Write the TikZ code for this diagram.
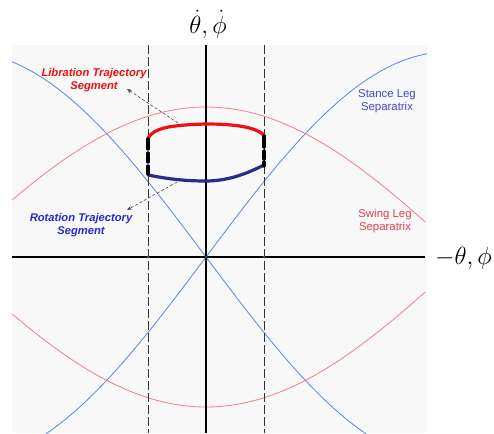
\documentclass[tikz,border=0pt]{standalone}
\usepackage{fontspec}
\setsansfont{Liberation Sans}
\usetikzlibrary{arrows.meta}
\definecolor{bgc}{HTML}{F8F8F8}
\definecolor{sepblue}{HTML}{5B87DC}
\definecolor{sepred}{HTML}{F08088}
\definecolor{trajred}{HTML}{F01010}
\definecolor{trajblue}{HTML}{2A2A90}
\definecolor{lblblue}{HTML}{2A2ACC}
\definecolor{stblue}{HTML}{4848D0}
\definecolor{swred}{HTML}{E04050}
\tikzset{
  sep/.style={line width=0.8pt},
  axisline/.style={line width=1.1pt, black},
  guide/.style={line width=0.9pt, black!80, dash pattern=on 9pt off 3pt},
  traj/.style={line width=3.2pt, line cap=round},
  gap/.style={line width=3.4pt, black, line cap=round},
  pointer/.style={line width=0.6pt, black!70, dash pattern=on 3pt off 2pt, -{Stealth[length=5pt,width=4pt]}},
  bolllabel/.style={font=\sffamily\bfseries\itshape\fontsize{11.2}{13.5}\selectfont, align=center, inner sep=0pt},
  seplabel/.style={font=\sffamily\fontsize{11.4}{13}\selectfont, align=center, inner sep=0pt},
  dot/.style={circle, fill=black!70, inner sep=0pt, minimum size=3pt}
}
\begin{document}
\begin{tikzpicture}[x=1pt,y=-1pt]
\useasboundingbox (0,0) rectangle (494,433);
\fill[bgc] (12,45) rectangle (427,433);
\begin{scope}
\clip (12,45) rectangle (427,433);
% stance leg separatrices (blue)
\draw[sep, sepblue] plot[domain=12:427, samples=120] (\x, {257 - 205*sin(0.3724*(\x-206))});
\draw[sep, sepblue] plot[domain=12:427, samples=120] (\x, {257 + 205*sin(0.3724*(\x-206))});
% swing leg separatrices (red)
\draw[sep, sepred] plot[domain=12:425, samples=120] (\x, {257 - 150*cos(0.349*(\x-206))});
\draw[sep, sepred] plot[domain=12:425, samples=120] (\x, {257 + 150*cos(0.349*(\x-206))});
\end{scope}
% guides and axes
\coordinate (gl1) at (148,45); \coordinate (gl2) at (148,433);
\coordinate (gr1) at (264,45); \coordinate (gr2) at (264,433);
\draw[guide] (gl1) -- (gl2);
\draw[guide] (gr1) -- (gr2);
\coordinate (ax1) at (12,257); \coordinate (ax2) at (425,257);
\coordinate (ay1) at (206,45); \coordinate (ay2) at (206,433);
\draw[axisline] (ax1) -- (ax2);
\draw[axisline] (ay1) -- (ay2);
\node[dot] (d1) at (148,257) {};
\node[dot] (d2) at (206,257) {};
\node[dot] (d3) at (264,257) {};
% trajectory
\coordinate (rl) at (148,138); \coordinate (rm) at (206,124); \coordinate (rr) at (264,135);
\coordinate (bl) at (148,175); \coordinate (bm) at (206,181); \coordinate (br) at (264,165);
\draw[traj, trajred] (rl) .. controls (154,128) and (170,125) .. (rm) .. controls (235,124) and (255,127) .. (rr);
\draw[traj, trajblue] (bl) .. controls (168,179) and (185,181) .. (bm) .. controls (230,181) and (250,172) .. (br);
\draw[gap] (148,139) -- (148,149);
\draw[gap] (148,153) -- (148,162);
\draw[gap] (148,166) -- (148,174);
\draw[gap] (264,136) -- (264,147);
\draw[gap] (264,151) -- (264,159);
\draw[gap] (264,162) -- (264,166);
% labels
\node[bolllabel, text=trajred] (lib) at (94,80) {Libration Trajectory\\Segment};
\node[bolllabel, text=lblblue] (rot) at (81,225) {Rotation Trajectory\\Segment};
\node[seplabel, text=stblue] (st) at (387,101.5) {Stance Leg\\Separatrix};
\node[seplabel, text=swred] (sw) at (385,221) {Swing Leg\\Separatrix};
\coordinate (libtail) at (178,123); \coordinate (libtip) at (127,89);
\coordinate (rottail) at (177,182); \coordinate (rottip) at (127,210);
\draw[pointer] (libtail) -- (libtip);
\draw[pointer] (rottail) -- (rottip);
% axis labels
\node[font=\fontsize{24}{26}\selectfont, inner sep=0pt] (ylab) at (208,24) {$\dot\theta,\dot\phi$};
\node[font=\fontsize{24}{26}\selectfont, inner sep=0pt, anchor=west] (xlab) at (435,258) {$-\theta,\phi$};
\end{tikzpicture}
\end{document}
